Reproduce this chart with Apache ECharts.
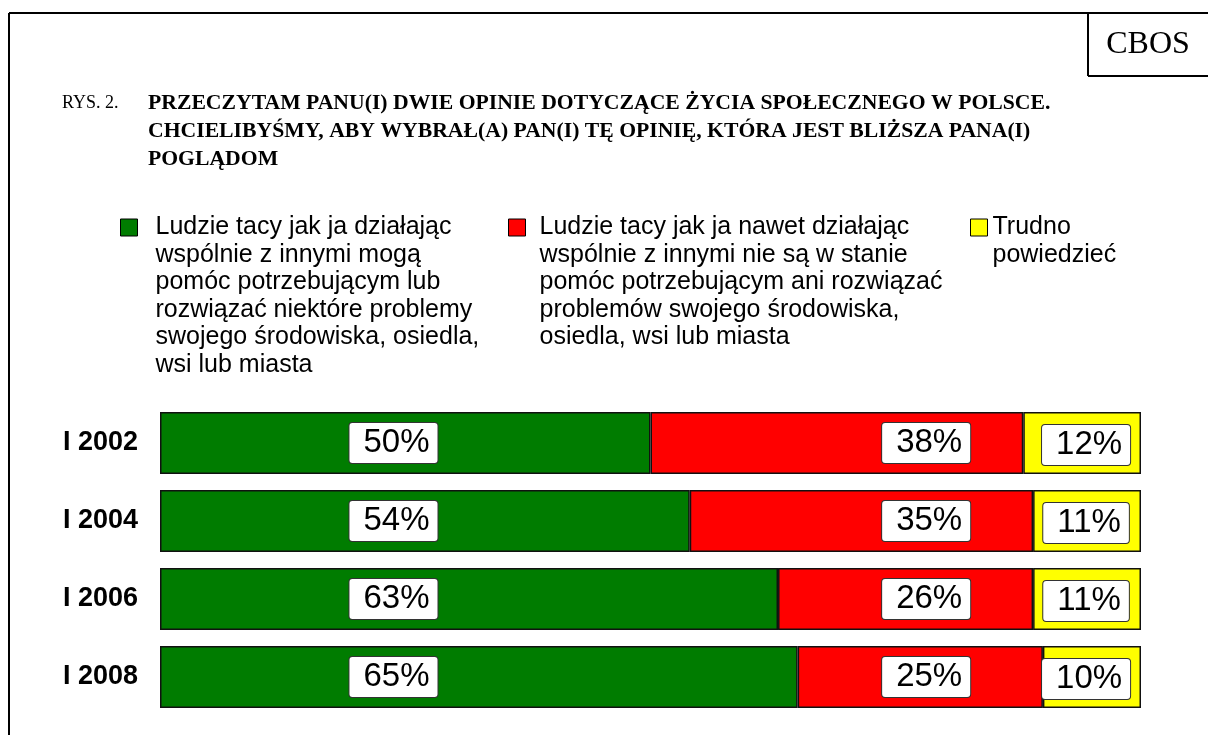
<!DOCTYPE html>
<html>
<head>
<meta charset="utf-8">
<script src="https://cdn.jsdelivr.net/npm/echarts@6/dist/echarts.min.js"></script>
<style>
  html, body { margin: 0; padding: 0; background: #fff; }
  #chart { width: 1208px; height: 735px; }
</style>
</head>
<body>
<div id="chart"></div>
<script>
// survey waves
const waves = ['I 2002', 'I 2004', 'I 2006', 'I 2008'];

// answers (%)
const canHelp = [50, 54, 63, 65];
const cannotHelp = [38, 35, 26, 25];
const hardToSay = [12, 11, 11, 10];

const seriesNames = [
  'Ludzie tacy jak ja działając wspólnie z innymi mogą pomóc potrzebującym lub rozwiązać niektóre problemy swojego środowiska, osiedla, wsi lub miasta',
  'Ludzie tacy jak ja nawet działając wspólnie z innymi nie są w stanie pomóc potrzebującym ani rozwiązać problemów swojego środowiska, osiedla, wsi lub miasta',
  'Trudno powiedzieć'
];
const legendLines = [
  ['Ludzie tacy jak ja działając', 'wspólnie z innymi mogą', 'pomóc potrzebującym lub', 'rozwiązać niektóre problemy', 'swojego środowiska, osiedla,', 'wsi lub miasta'],
  ['Ludzie tacy jak ja nawet działając', 'wspólnie z innymi nie są w stanie', 'pomóc potrzebującym ani rozwiązać', 'problemów swojego środowiska,', 'osiedla, wsi lub miasta'],
  ['Trudno', 'powiedzieć']
];

const colors = ['#007C00', '#FF0000', '#FFFF00'];
const lineH = 27.5;
const sans = 'Liberation Sans, Arial, sans-serif';
const serif = 'Liberation Serif, Times New Roman, serif';

const chart = echarts.init(document.getElementById('chart'));

// legend text is centred on the icon, so pad with blank lines on top
// to make the first line sit next to the square
function makeLegend(i, left, gap) {
  const n = legendLines[i].length;
  return {
    left: left,
    top: 219 - ((2 * n - 1) * lineH / 2 - 8.5),
    padding: 0,
    orient: 'vertical',
    selectedMode: false,
    icon: 'rect',
    itemWidth: 17,
    itemHeight: 17,
    itemStyle: { borderColor: '#000', borderWidth: 1 },
    data: [seriesNames[i]],
    formatter: () => '\n'.repeat(n - 1) + legendLines[i].join('\n'),
    textStyle: {
      fontFamily: sans,
      fontSize: 25,
      color: '#000',
      lineHeight: lineH,
      padding: [0, 0, 0, gap]
    }
  };
}

function barSeries(i, values) {
  return {
    name: seriesNames[i],
    type: 'bar',
    stack: 'total',
    data: values,
    barWidth: 62,
    itemStyle: { color: colors[i], borderColor: '#111', borderWidth: 1.5 },
    emphasis: { disabled: true },
    silent: true
  };
}

// value boxes sit in fixed columns, as in the original
function labelSeries(values, column, dy) {
  return {
    type: 'scatter',
    symbolSize: 0,
    silent: true,
    z: 5,
    itemStyle: { opacity: 1 },
    emphasis: { disabled: true },
    data: waves.map((w, k) => [column, w, values[k]]),
    label: {
      show: true,
      position: 'inside',
      offset: [0, dy],
      opacity: 1,
      formatter: p => p.value[2] + '%',
      fontFamily: sans,
      fontSize: 33,
      lineHeight: 34,
      color: '#000',
      backgroundColor: '#fff',
      borderColor: '#333',
      borderWidth: 1,
      borderRadius: 3,
      padding: [3, 8, 3, 14]
    }
  };
}

const option = {
  animation: false,
  backgroundColor: '#fff',
  title: [
    {
      text: 'RYS. 2.',
      left: 57,
      top: 84,
      textStyle: { fontFamily: serif, fontSize: 18, fontWeight: 'normal', color: '#000', lineHeight: 28 }
    },
    {
      text: 'PRZECZYTAM PANU(I) DWIE OPINIE DOTYCZĄCE ŻYCIA SPOŁECZNEGO W POLSCE.\nCHCIELIBYŚMY, ABY WYBRAŁ(A) PAN(I) TĘ OPINIĘ, KTÓRA JEST BLIŻSZA PANA(I)\nPOGLĄDOM',
      left: 143,
      top: 84,
      textStyle: { fontFamily: serif, fontSize: 21.7, fontWeight: 'bold', color: '#000', lineHeight: 28 }
    }
  ],
  graphic: [
    { type: 'line', shape: { x1: 9, y1: 13, x2: 9, y2: 735 }, style: { stroke: '#000', lineWidth: 2 } },
    { type: 'line', shape: { x1: 9, y1: 13, x2: 1208, y2: 13 }, style: { stroke: '#000', lineWidth: 2 } },
    { type: 'line', shape: { x1: 1088, y1: 13, x2: 1088, y2: 76 }, style: { stroke: '#000', lineWidth: 2 } },
    { type: 'line', shape: { x1: 1088, y1: 76, x2: 1208, y2: 76 }, style: { stroke: '#000', lineWidth: 2 } },
    {
      type: 'text', x: 1148, y: 45,
      style: { text: 'CBOS', fontFamily: serif, fontSize: 32, fill: '#000', textAlign: 'center', textVerticalAlign: 'middle' }
    }
  ],
  legend: [
    makeLegend(0, 120, 13),
    makeLegend(1, 508, 9),
    makeLegend(2, 970, 0)
  ],
  grid: { left: 160, right: 67, top: 404, bottom: 19 },
  xAxis: { type: 'value', min: 0, max: 100, show: false },
  yAxis: {
    type: 'category',
    data: waves,
    inverse: true,
    axisLine: { show: false },
    axisTick: { show: false },
    axisLabel: { color: '#000', fontSize: 27, fontWeight: 'bold', fontFamily: sans, margin: 22 }
  },
  series: [
    barSeries(0, canHelp),
    barSeries(1, cannotHelp),
    barSeries(2, hardToSay),
    labelSeries(canHelp, 23.8, 0),
    labelSeries(cannotHelp, 78.1, 0),
    labelSeries(hardToSay, 94.4, 2)
  ]
};

chart.setOption(option);
</script>
</body>
</html>
